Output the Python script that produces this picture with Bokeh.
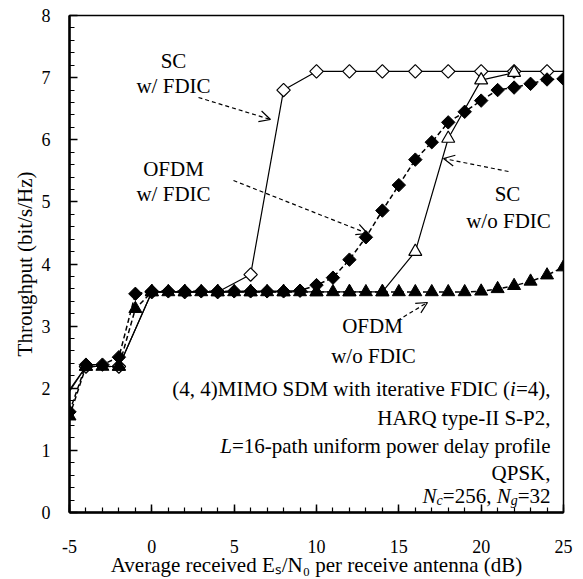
import numpy as np
from bokeh.plotting import figure
from bokeh.models import Range1d, Label, Arrow, OpenHead, FixedTicker
from bokeh.embed import file_html
from bokeh.resources import INLINE

# ---------------- data ----------------
x_ticks = [-5, 0, 5, 10, 15, 20, 25]
x_tick_labels = ["-5", "0", "5", "10", "15", "20", "25"]
y_ticks = [0, 1, 2, 3, 4, 5, 6, 7, 8]
y_tick_labels = ["0", "1", "2", "3", "4", "5", "6", "7", "8"]

# SC with FDIC (open diamonds, 2 dB steps)
sc_fdic_x = [-6, -4, -2, 0, 2, 4, 6, 8, 10, 12, 14, 16, 18, 20, 22, 24, 26]
sc_fdic_y = [1.60, 2.35, 2.35, 3.55, 3.55, 3.55, 3.83, 6.80, 7.10, 7.10,
             7.10, 7.10, 7.10, 7.10, 7.10, 7.10, 7.10]
# SC without FDIC (open triangles, 2 dB steps)
sc_nofdic_x = [-6, -4, -2, 0, 2, 4, 6, 8, 10, 12, 14, 16, 18, 20, 22]
sc_nofdic_y = [1.55, 2.35, 2.35, 3.55, 3.55, 3.55, 3.55, 3.55, 3.55, 3.55,
               3.55, 4.20, 6.02, 6.96, 7.08]
# OFDM (1 dB steps)
ofdm_x = [-5, -4, -3, -2, -1, 0, 1, 2, 3, 4, 5, 6, 7, 8, 9, 10, 11, 12, 13,
          14, 15, 16, 17, 18, 19, 20, 21, 22, 23, 24, 25]
ofdm_fdic_y = [1.62, 2.38, 2.38, 2.50, 3.52, 3.56, 3.56, 3.56, 3.56, 3.56,
               3.56, 3.56, 3.56, 3.56, 3.57, 3.66, 3.78, 4.07, 4.43, 4.86,
               5.27, 5.68, 5.96, 6.28, 6.45, 6.63, 6.80, 6.84, 6.90, 6.97, 6.98]
ofdm_nofdic_y = [1.55, 2.35, 2.35, 2.35, 3.28, 3.55, 3.55, 3.55, 3.55, 3.55,
                 3.55, 3.55, 3.55, 3.55, 3.55, 3.55, 3.55, 3.55, 3.55, 3.55,
                 3.55, 3.55, 3.55, 3.55, 3.55, 3.56, 3.60, 3.65, 3.72, 3.82, 3.95]

FONT = "Liberation Serif"

# ---------------- figure ----------------
p = figure(width=575, height=579, x_range=Range1d(-5, 25), y_range=Range1d(0, 8),
           output_backend="svg", toolbar_location=None,
           min_border_left=69, min_border_right=12, min_border_top=15, min_border_bottom=67)
p.xgrid.visible = False
p.ygrid.visible = False
p.background_fill_color = "white"
p.border_fill_color = "white"
p.outline_line_color = "black"
p.outline_line_width = 1.5
p.outline_line_alpha = 1.0

xa = p.xaxis[0]
xa.ticker = FixedTicker(ticks=x_ticks, minor_ticks=list(np.arange(-5, 26, 1)))
xa.major_label_overrides = {t: l for t, l in zip(x_ticks, x_tick_labels)}
xa.major_label_standoff = 27
xa.axis_label = "Average received E\u209b/N\u2080 per receive antenna (dB)"
xa.axis_label_standoff = -3

ya = p.yaxis[0]
ya.ticker = FixedTicker(ticks=y_ticks, minor_ticks=[round(i * 0.2, 1) for i in range(41)])
ya.major_label_overrides = {t: l for t, l in zip(y_ticks, y_tick_labels)}
ya.major_label_standoff = 19
ya.axis_label = "Throughput (bit/s/Hz)"
ya.axis_label_standoff = 2

for ax in (xa, ya):
    ax.axis_line_width = 2.5
    ax.axis_line_color = "black"
    ax.major_tick_in = 8
    ax.major_tick_out = 0
    ax.minor_tick_in = 5
    ax.minor_tick_out = 0
    ax.major_tick_line_width = 1.5
    ax.minor_tick_line_width = 1.2
    ax.major_tick_line_color = "black"
    ax.minor_tick_line_color = "black"
    ax.major_label_text_font = FONT
    ax.major_label_text_font_size = "18px"
    ax.major_label_text_color = "black"
    ax.axis_label_text_font = FONT
    ax.axis_label_text_font_size = "21px"
    ax.axis_label_text_font_style = "normal"
    ax.axis_label_text_color = "black"

# ---------------- series ----------------
p.line(sc_fdic_x, sc_fdic_y, line_color="black", line_width=1.2)
p.scatter(sc_fdic_x, sc_fdic_y, marker="square", angle=np.pi / 4, size=9.5,
          fill_color="white", line_color="black", line_width=1.2)

p.line(sc_nofdic_x, sc_nofdic_y, line_color="black", line_width=1.2)
p.scatter(sc_nofdic_x, sc_nofdic_y, marker="triangle", size=13,
          fill_color="white", line_color="black", line_width=1.2)

p.line(ofdm_x, ofdm_nofdic_y, line_color="black", line_width=1.5, line_dash="5 3")
p.scatter(ofdm_x, ofdm_nofdic_y, marker="triangle", size=13,
          fill_color="black", line_color="black", line_width=1)

p.line(ofdm_x, ofdm_fdic_y, line_color="black", line_width=1.5, line_dash="5 3")
p.scatter(ofdm_x, ofdm_fdic_y, marker="square", angle=np.pi / 4, size=9.5,
          fill_color="black", line_color="black", line_width=1)

# ---------------- annotations ----------------
def rx(px):  # reference pixel -> data x
    return -5 + (px - 69) * 30.0 / 494.0

def ry(py):  # reference pixel -> data y
    return (512 - py) * 8.0 / 497.0


def txt(x, y, s, size=21, align="center"):
    p.add_layout(Label(x=x, y=y, text=s, text_align=align, text_baseline="middle",
                       text_font=FONT, text_font_size=f"{size}px", text_color="black"))


def arrow(x0, y0, x1, y1):
    p.add_layout(Arrow(end=OpenHead(size=11, line_width=1.2, line_color="black"),
                       x_start=x0, y_start=y0, x_end=x1, y_end=y1,
                       line_dash="4 3", line_width=1.2, line_color="black"))


txt(rx(173), ry(60), "SC")
txt(rx(173), ry(85), "w/ FDIC")
txt(rx(173), ry(168), "OFDM")
txt(rx(173), ry(193), "w/ FDIC")
txt(rx(507), ry(193), "SC")
txt(rx(508), ry(220), "w/o FDIC")
txt(rx(372), ry(325), "OFDM")
txt(rx(373), ry(355), "w/o FDIC")

arrow(rx(198), ry(97), rx(270), ry(119))
arrow(rx(233), ry(180), rx(367), ry(233))
arrow(rx(508), ry(171), rx(443), ry(158))
arrow(rx(397), ry(320), rx(427), ry(302))

# Times-compatible advance widths (1/1000 em) for composing mixed-style runs
W = {' ': 250, '(': 333, ')': 333, ',': 250, '-': 333, '/': 278, '=': 564,
     'A': 722, 'B': 667, 'C': 667, 'D': 722, 'E': 611, 'F': 556, 'H': 722, 'I': 333,
     'K': 722, 'L': 611, 'M': 889, 'N': 722, 'O': 722, 'P': 556, 'Q': 722, 'R': 667,
     'S': 556, 'T': 611, 'a': 444, 'b': 500, 'c': 444, 'd': 500, 'e': 444, 'f': 333,
     'g': 500, 'h': 500, 'i': 278, 'l': 278, 'm': 778, 'n': 500, 'o': 500, 'p': 500,
     'r': 333, 's': 389, 't': 278, 'u': 500, 'v': 500, 'w': 722, 'y': 500}
WI = {'E': 611, 'N': 667, 'L': 556, 'i': 278, 's': 389, 'c': 444, 'g': 500}


def tw(s, size, italic=False):
    tbl = WI if italic else W
    return sum(tbl.get(c, W.get(c, 500)) for c in s) * size / 1000.0


def run(x, y, segs, align="right"):
    widths = [tw(t, sz, it) for t, it, sz, yo in segs]
    total = sum(widths)
    off = {"right": -total, "center": -total / 2, "left": 0}[align]
    for (t, it, sz, yo), w in zip(segs, widths):
        lead = len(t) - len(t.lstrip(' '))
        body = t.strip(' ')
        if body:
            p.add_layout(Label(x=x, y=y, x_offset=off + tw(' ' * lead, sz), y_offset=yo,
                               text=body, text_align="left", text_baseline="middle",
                               text_font=FONT, text_font_size=f"{sz}px",
                               text_font_style="italic" if it else "normal",
                               text_color="black"))
        off += w


S = 21
SUB = 14
XR = rx(550)
run(XR, ry(388), [("(4, 4)MIMO SDM with iterative FDIC (", False, S, 0), ("i", True, S, 0),
                  ("=4),", False, S, 0)])
run(XR, ry(417), [("HARQ type-II S-P2,", False, S, 0)])
run(XR, ry(445), [("L", True, S, 0), ("=16-path uniform power delay profile", False, S, 0)])
run(XR, ry(472), [("QPSK,", False, S, 0)])
run(XR, ry(495), [("N", True, S, 0), ("c", True, SUB, -5), ("=256, ", False, S, 0),
                  ("N", True, S, 0), ("g", True, SUB, -5), ("=32", False, S, 0)])

open("out.html", "w").write(file_html(p, INLINE))
